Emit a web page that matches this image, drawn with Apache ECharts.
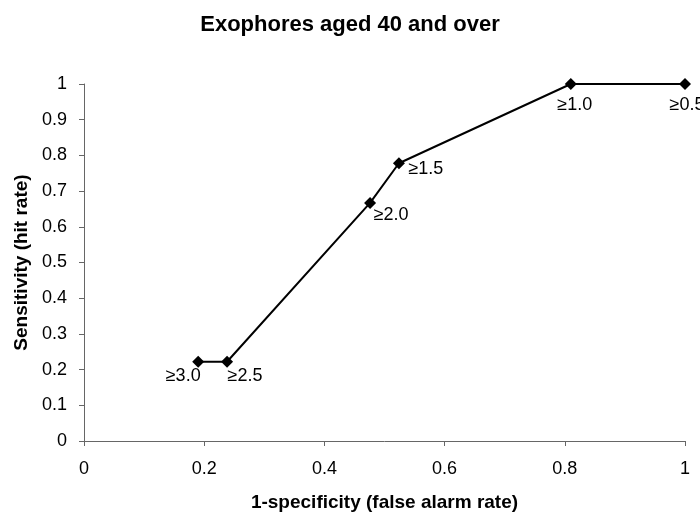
<!DOCTYPE html>
<html>
<head>
<meta charset="utf-8">
<script src="https://cdn.jsdelivr.net/npm/echarts@6/dist/echarts.min.js"></script>
<style>html,body{margin:0;padding:0;background:#fff}#c{width:700px;height:517px}</style>
</head>
<body>
<div id="c"></div>
<script>
var falseAlarm = [0.190, 0.238, 0.476, 0.524, 0.810, 1.0];
var hitRate = [0.222, 0.222, 0.667, 0.778, 1.0, 1.0];
var cutoffs = ["≥3.0", "≥2.5", "≥2.0", "≥1.5", "≥1.0", "≥0.5"];
var xTicks = [0, 0.2, 0.4, 0.6, 0.8, 1];
var yTicks = [0, 0.1, 0.2, 0.3, 0.4, 0.5, 0.6, 0.7, 0.8, 0.9, 1];
// label offsets (style only)
var labelOffsets = [[-15, 14], [18, 14], [21, 12], [27, 6], [4, 21], [2, 21]];

var FONT = "'Liberation Sans', Arial, sans-serif";
var data = falseAlarm.map(function (x, i) {
  return {
    value: [x, hitRate[i]],
    label: { offset: labelOffsets[i] }
  };
});

var chart = echarts.init(document.getElementById('c'), null, { renderer: 'canvas' });
chart.setOption({
  animation: false,
  backgroundColor: '#ffffff',
  title: {
    text: 'Exophores aged 40 and over',
    left: 'center',
    top: 8,
    textStyle: { fontFamily: FONT, fontSize: 22, fontWeight: 'bold', color: '#000', lineHeight: 24 }
  },
  grid: { left: 84, right: 15, top: 84, bottom: 74 },
  xAxis: {
    type: 'value',
    min: 0, max: 1, interval: 0.2,
    name: '1-specificity (false alarm rate)',
    nameLocation: 'middle',
    nameGap: 52,
    nameTextStyle: { fontFamily: FONT, fontSize: 19, fontWeight: 'bold', color: '#000' },
    axisLine: { show: true, lineStyle: { color: '#666', width: 1 } },
    axisTick: { show: true, inside: false, length: 5, lineStyle: { color: '#666' } },
    splitLine: { show: false },
    axisLabel: {
      margin: 19, fontFamily: FONT, fontSize: 18, color: '#000',
      formatter: function (v) { return String(parseFloat(v.toFixed(1))); }
    }
  },
  yAxis: {
    type: 'value',
    min: 0, max: 1, interval: 0.1,
    name: 'Sensitivity (hit rate)',
    nameLocation: 'middle',
    nameGap: 50,
    nameTextStyle: { fontFamily: FONT, fontSize: 19, fontWeight: 'bold', color: '#000' },
    axisLine: { show: true, lineStyle: { color: '#666', width: 1 } },
    axisTick: { show: true, inside: false, length: 5, lineStyle: { color: '#666' } },
    splitLine: { show: false },
    axisLabel: {
      margin: 17, fontFamily: FONT, fontSize: 18, color: '#000',
      formatter: function (v) { return String(parseFloat(v.toFixed(1))); }
    }
  },
  series: [{
    type: 'line',
    data: data,
    symbol: 'diamond',
    symbolSize: 12,
    clip: false,
    itemStyle: { color: '#000' },
    lineStyle: { color: '#000', width: 2 },
    label: {
      show: true,
      position: 'inside',
      align: 'center',
      verticalAlign: 'middle',
      fontFamily: FONT,
      fontSize: 18,
      color: '#000',
      formatter: function (p) { return cutoffs[p.dataIndex]; }
    }
  }]
});
</script>
</body>
</html>
